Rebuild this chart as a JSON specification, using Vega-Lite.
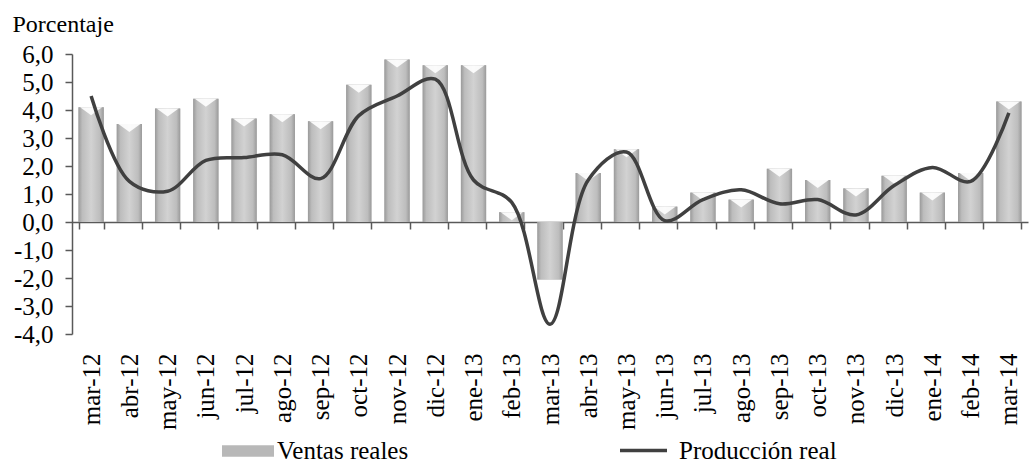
{
  "$schema": "https://vega.github.io/schema/vega-lite/v6.json",
  "width": 956,
  "height": 280,
  "autosize": {"type": "none"},
  "padding": {"left": 72, "top": 54, "right": 5, "bottom": 132},
  "background": "white",
  "data": {
    "values": [
      {"mes": "mar-12", "ventas": 4.1, "produccion": 4.5},
      {"mes": "abr-12", "ventas": 3.5, "produccion": 1.45},
      {"mes": "may-12", "ventas": 4.05, "produccion": 1.1},
      {"mes": "jun-12", "ventas": 4.4, "produccion": 2.2},
      {"mes": "jul-12", "ventas": 3.7, "produccion": 2.3},
      {"mes": "ago-12", "ventas": 3.85, "produccion": 2.4},
      {"mes": "sep-12", "ventas": 3.6, "produccion": 1.55},
      {"mes": "oct-12", "ventas": 4.9, "produccion": 3.8},
      {"mes": "nov-12", "ventas": 5.8, "produccion": 4.5},
      {"mes": "dic-12", "ventas": 5.6, "produccion": 5.1},
      {"mes": "ene-13", "ventas": 5.6, "produccion": 1.5},
      {"mes": "feb-13", "ventas": 0.35, "produccion": 0.7},
      {"mes": "mar-13", "ventas": -2.05, "produccion": -3.65},
      {"mes": "abr-13", "ventas": 1.75, "produccion": 1.5},
      {"mes": "may-13", "ventas": 2.6, "produccion": 2.5},
      {"mes": "jun-13", "ventas": 0.55, "produccion": 0.05},
      {"mes": "jul-13", "ventas": 1.05, "produccion": 0.8},
      {"mes": "ago-13", "ventas": 0.8, "produccion": 1.15},
      {"mes": "sep-13", "ventas": 1.9, "produccion": 0.65},
      {"mes": "oct-13", "ventas": 1.5, "produccion": 0.8},
      {"mes": "nov-13", "ventas": 1.2, "produccion": 0.25},
      {"mes": "dic-13", "ventas": 1.65, "produccion": 1.3},
      {"mes": "ene-14", "ventas": 1.05, "produccion": 1.95},
      {"mes": "feb-14", "ventas": 1.75, "produccion": 1.45},
      {"mes": "mar-14", "ventas": 4.3, "produccion": 3.9}
    ]
  },
  "encoding": {
    "x": {
      "field": "mes",
      "type": "ordinal",
      "sort": null,
      "scale": {"paddingInner": 0.34, "paddingOuter": 0.17},
      "axis": {
        "title": null,
        "labelAngle": -90,
        "offset": -112,
        "tickBand": "extent",
        "tickSize": 7,
        "labelPadding": 124,
        "labelFontSize": 25,
        "labelColor": "black",
        "domainColor": "#595959",
        "tickColor": "#595959",
        "domainWidth": 1.5,
        "tickWidth": 1.5,
        "labelOverlap": false,
        "grid": false
      }
    }
  },
  "layer": [
    {
      "mark": {"type": "bar"},
      "encoding": {
        "y": {
          "field": "ventas",
          "type": "quantitative",
          "scale": {"domain": [-4, 6], "nice": false},
          "title": "Porcentaje",
          "axis": {"values": [-4, -3, -2, -1, 0, 1, 2, 3, 4, 5, 6], "tickCount": 20}
        },
        "fill": {
          "datum": "Ventas reales",
          "type": "nominal",
          "scale": {"range": ["#b8b8b8"]},
          "legend": {
            "orient": "none",
            "legendX": 150,
            "legendY": 371,
            "title": null,
            "symbolType": "M-1,-0.22L1,-0.22L1,0.22L-1,0.22Z",
            "symbolSize": 2704,
            "symbolStrokeWidth": 0,
            "labelOffset": 3,
            "labelFontSize": 25,
            "labelColor": "black"
          }
        }
      }
    },
    {
      "mark": {
        "type": "bar",
        "color": {
          "gradient": "linear",
          "x1": 0, "x2": 1, "y1": 0, "y2": 0,
          "stops": [
            {"offset": 0, "color": "#9a9a9a"},
            {"offset": 0.15, "color": "#bdbdbd"},
            {"offset": 0.5, "color": "#d2d2d2"},
            {"offset": 0.85, "color": "#bdbdbd"},
            {"offset": 1, "color": "#9a9a9a"}
          ]
        }
      },
      "encoding": {
        "y": {"field": "ventas", "type": "quantitative", "title": "Porcentaje",
          "axis": {"values": [-4, -3, -2, -1, 0, 1, 2, 3, 4, 5, 6], "tickCount": 20}}
      }
    },
    {
      "transform": [{"filter": "datum.ventas > 0"}],
      "mark": {
        "type": "point",
        "shape": "M-0.88,0L0.88,0L0,0.64Z",
        "filled": true,
        "color": "white",
        "opacity": 0.9,
        "size": 625
      },
      "encoding": {
        "y": {"field": "ventas", "type": "quantitative", "title": "Porcentaje",
          "axis": {"values": [-4, -3, -2, -1, 0, 1, 2, 3, 4, 5, 6], "tickCount": 20}}
      }
    },
    {
      "mark": {"type": "line", "interpolate": "catmull-rom", "strokeWidth": 3.5},
      "encoding": {
        "y": {"field": "produccion", "type": "quantitative", "title": "Porcentaje",
          "axis": {"values": [-4, -3, -2, -1, 0, 1, 2, 3, 4, 5, 6], "tickCount": 20}},
        "stroke": {
          "datum": "Producción real",
          "type": "nominal",
          "scale": {"range": ["#404040"]},
          "legend": {
            "orient": "none",
            "legendX": 546,
            "legendY": 371,
            "title": null,
            "symbolType": "stroke",
            "symbolSize": 2209,
            "symbolStrokeWidth": 3.5,
            "labelOffset": 10,
            "labelFontSize": 25,
            "labelColor": "black"
          }
        }
      }
    }
  ],
  "config": {
    "font": "Liberation Serif",
    "view": {"stroke": null},
    "axisY": {
      "format": ".1f",
      "tickSize": 7,
      "labelPadding": 12,
      "labelFontSize": 25,
      "labelColor": "black",
      "labelOverlap": false,
      "labelBaseline": "middle",
      "domainColor": "#595959",
      "tickColor": "#595959",
      "domainWidth": 1.5,
      "tickWidth": 1.5,
      "grid": false,
      "titleAngle": 0,
      "titleX": -60,
      "titleY": -23,
      "titleAlign": "left",
      "titleBaseline": "alphabetic",
      "titleFontSize": 24,
      "titleFontWeight": "normal",
      "titleColor": "black"
    },
    "locale": {
      "number": {
        "decimal": ",",
        "thousands": ".",
        "grouping": [3],
        "currency": ["", " €"],
        "minus": "-"
      }
    }
  }
}
